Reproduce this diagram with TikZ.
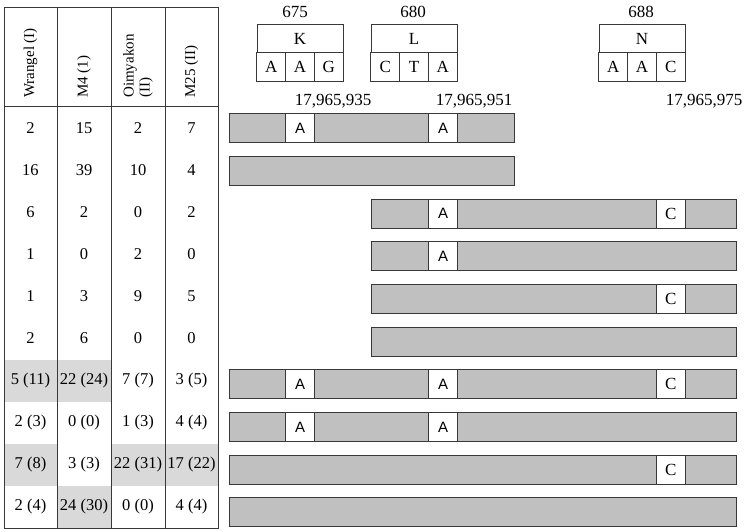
\documentclass[tikz,border=0pt]{standalone}
\usepackage{fontspec}
\setmainfont{Liberation Serif}
\newfontfamily\ntsans{Liberation Sans}
\usetikzlibrary{positioning}
\definecolor{bargray}{HTML}{C0C0C0}
\definecolor{cellgray}{HTML}{D9D9D9}
\definecolor{edgegray}{HTML}{383838}

\begin{document}
\begin{tikzpicture}[x=1pt, y=-1pt,
  bar/.style={draw=edgegray, fill=bargray, line width=1pt, minimum height=29pt,
              inner sep=0pt},
  base/.style={draw=edgegray, fill=white, line width=1pt, minimum width=28.5pt,
               minimum height=29pt, inner sep=0pt, font=\ntsans\fontsize{15}{15}\selectfont},
  baseserif/.style={base, font=\fontsize{17}{17}\selectfont},
  aa/.style={draw=edgegray, fill=white, line width=1pt, minimum width=86pt,
             minimum height=27.7pt, inner sep=0pt, font=\fontsize{17}{17}\selectfont},
  nt/.style={draw=edgegray, fill=white, line width=1pt, minimum width=28.7pt,
             minimum height=29pt, inner sep=0pt, font=\fontsize{17}{17}\selectfont},
  lbl/.style={inner sep=0pt, font=\fontsize{17}{17}\selectfont},
  head/.style={rotate=90, anchor=west, align=left, inner sep=0pt,
               font=\fontsize{15}{16}\selectfont},
  cell/.style={inner sep=0pt, font=\fontsize{16.5}{16.5}\selectfont}
]
  \useasboundingbox (0,0) rectangle (748,532);

  % Shaded cells
  \foreach \r/\xa/\xb in {7/4/111, 9/4/57, 9/111/218, 10/57/111}
    \fill[cellgray] (\xa,{107+(\r-1)*42.1}) rectangle (\xb,{107+\r*42.1});

  % Table grid
  \draw[edgegray, line width=1pt] (4,8) rectangle (218,528);
  \foreach \x in {57,111,165}
    \draw[edgegray, line width=1pt] (\x,8) -- (\x,528);
  \draw[edgegray, line width=1pt] (4,107) -- (218,107);

  % Header
  \node[head] (h1) at (30.5,98) {Wrangel (I)};
  \node[head] (h2) at (84,98) {M4 (1)};
  \node[head] (h3) at (138,98) {Oimyakon\\(II)};
  \node[head] (h4) at (191.5,98) {M25 (II)};

  % Counts
  \foreach \r/\a/\b/\c/\d in {1/2/15/2/7, 2/16/39/10/4, 3/6/2/0/2, 4/1/0/2/0,
      5/1/3/9/5, 6/2/6/0/0, 7/5 (11)/22 (24)/7 (7)/3 (5),
      8/2 (3)/0 (0)/1 (3)/4 (4), 9/7 (8)/3 (3)/22 (31)/17 (22),
      10/2 (4)/24 (30)/0 (0)/4 (4)} {
    \node[cell] (c\r-1) at (30.5,{128+(\r-1)*42.1}) {\a};
    \node[cell] (c\r-2) at (84,{128+(\r-1)*42.1}) {\b};
    \node[cell] (c\r-3) at (138,{128+(\r-1)*42.1}) {\c};
    \node[cell] (c\r-4) at (191.5,{128+(\r-1)*42.1}) {\d};
  }

  % Codons
  \node[aa] (K) at (300,38.85) {K};
  \node[nt] (K1) at (271.3,67.2) {A};
  \node[nt] (K2) at (300,67.2) {A};
  \node[nt] (K3) at (328.7,67.2) {G};
  \node[aa] (L) at (414,38.85) {L};
  \node[nt] (L1) at (385.3,67.2) {C};
  \node[nt] (L2) at (414,67.2) {T};
  \node[nt] (L3) at (442.7,67.2) {A};
  \node[aa] (N) at (642,38.85) {N};
  \node[nt] (N1) at (613.3,67.2) {A};
  \node[nt] (N2) at (642,67.2) {A};
  \node[nt] (N3) at (670.7,67.2) {C};

  \node[lbl] (p675) at (295,12) {675};
  \node[lbl] (p680) at (413,12) {680};
  \node[lbl] (p688) at (641,12) {688};

  % Positions
  \node[lbl] (s935) at (333,101) {17,965,935};
  \node[lbl] (s951) at (474,101) {17,965,951};
  \node[lbl] (s975) at (704,101) {17,965,975};

  % Haplotype bars
  \foreach \r/\xs/\xe in {1/229/514, 2/229/514, 3/371/736, 4/371/736, 5/371/736,
      6/371/736, 7/229/736, 8/229/736, 9/229/736, 10/229/736}
    \node[bar, minimum width={(\xe-\xs)*1pt}] (bar\r)
      at ({(\xs+\xe)/2},{128.5+(\r-1)*42.65}) {};

  % Variant bases
  \foreach \r in {1,7,8}
    \node[base] (a\r) at (300.2,{128.5+(\r-1)*42.65}) {A};
  \foreach \r in {1,3,4,7,8}
    \node[base] (b\r) at (443,{128.5+(\r-1)*42.65}) {A};
  \foreach \r in {3,5,7,9}
    \node[baseserif] (g\r) at (670.8,{128.5+(\r-1)*42.65}) {C};
\end{tikzpicture}
\end{document}
